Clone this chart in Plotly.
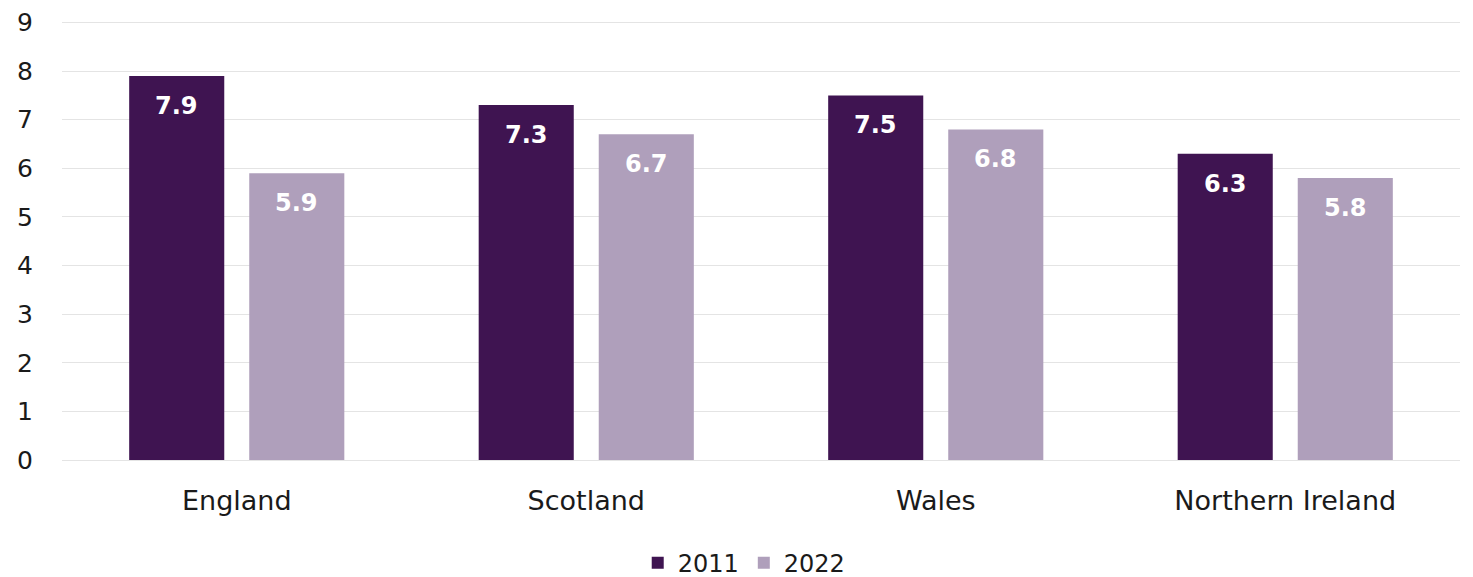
import plotly.graph_objects as go

categories = ["England", "Scotland", "Wales", "Northern Ireland"]
values_2011 = [7.9, 7.3, 7.5, 6.3]
values_2022 = [5.9, 6.7, 6.8, 5.8]
series_names = ["2011", "2022"]
colors = ["#3F1451", "#AF9FBB"]

FONT = "DejaVu Sans"
W, H = 1473, 577
ML, MR, MT, MB = 62, 13, 21, 117
BARGAP = 0.313
BARGROUPGAP = 0.208

fig = go.Figure()
for name, vals, col in zip(series_names, [values_2011, values_2022], colors):
    fig.add_trace(go.Bar(
        name=name, x=categories, y=vals, marker=dict(color=col, line=dict(width=0)),
        hoverinfo="x+y",
    ))

# value labels placed inside near the top of each bar
cat_px = (W - ML - MR) / len(categories)
slot_px = cat_px * (1 - BARGAP) / len(series_names)
for i, vals in enumerate([values_2011, values_2022]):
    shift = (i - (len(series_names) - 1) / 2) * slot_px
    for c, v in zip(categories, vals):
        fig.add_annotation(x=c, y=v, xref="x", yref="y", text=f"<b>{v:.1f}</b>",
                           showarrow=False, xshift=shift, yshift=-30,
                           font=dict(color="white", size=24, family=FONT))

fig.update_layout(
    width=W, height=H,
    margin=dict(l=ML, r=MR, t=MT, b=MB, autoexpand=False),
    paper_bgcolor="white", plot_bgcolor="white",
    barmode="group", bargap=BARGAP, bargroupgap=BARGROUPGAP,
    font=dict(family=FONT, color="#1A1A1A"),
    showlegend=True,
    legend=dict(orientation="h", x=0.488, xanchor="center", y=-0.235, yanchor="middle",
                font=dict(size=24, family=FONT), itemwidth=30, tracegroupgap=0,
                traceorder="normal"),
    yaxis=dict(range=[0, 9.03], tickvals=list(range(0, 10)), showgrid=True,
               gridcolor="#E4E4E4", gridwidth=1,
               zeroline=True, zerolinecolor="#E4E4E4", zerolinewidth=1,
               tickfont=dict(size=25, family=FONT), ticklabelstandoff=28,
               showline=False, automargin=False),
    xaxis=dict(showline=False, tickfont=dict(size=27, family=FONT),
               ticklabelstandoff=22, automargin=False),
)
fig.write_html("out.html")
